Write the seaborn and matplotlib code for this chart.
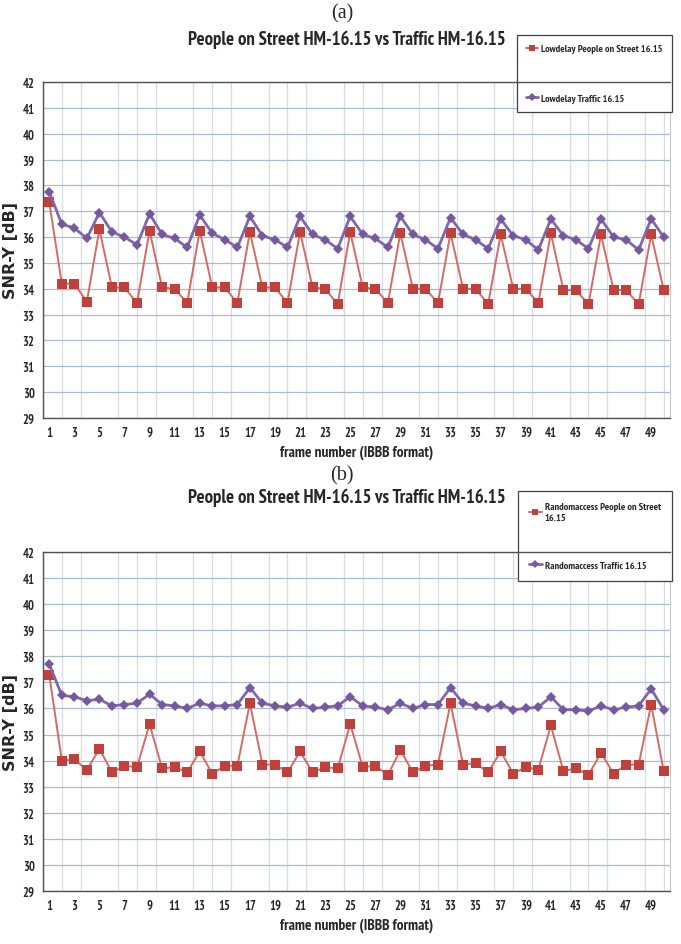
import numpy as np
import pandas as pd
import seaborn as sns
import matplotlib.pyplot as plt
from matplotlib import font_manager
from matplotlib.ticker import FixedLocator

# frame numbers 1..50
frames = list(range(1, 51))

# (a) lowdelay
lowdelay_people = [37.35, 34.2, 34.2, 33.5, 36.3, 34.05, 34.05, 33.45, 36.25, 34.05,
                   34.0, 33.45, 36.25, 34.05, 34.05, 33.45, 36.2, 34.05, 34.05, 33.45,
                   36.2, 34.05, 34.0, 33.4, 36.2, 34.05, 34.0, 33.45, 36.15, 34.0,
                   34.0, 33.45, 36.15, 34.0, 34.0, 33.4, 36.1, 34.0, 34.0, 33.45,
                   36.15, 33.95, 33.95, 33.4, 36.1, 33.95, 33.95, 33.4, 36.1, 33.95]
lowdelay_traffic = [37.75, 36.5, 36.35, 35.95, 36.95, 36.2, 36.0, 35.7, 36.9, 36.1,
                    35.95, 35.6, 36.85, 36.15, 35.9, 35.6, 36.8, 36.05, 35.9, 35.6,
                    36.8, 36.1, 35.9, 35.55, 36.8, 36.1, 35.95, 35.6, 36.8, 36.1,
                    35.9, 35.55, 36.75, 36.1, 35.9, 35.55, 36.7, 36.05, 35.9, 35.5,
                    36.7, 36.05, 35.9, 35.55, 36.7, 36.0, 35.9, 35.5, 36.7, 36.0]

# (b) randomaccess
random_people = [37.3, 34.0, 34.05, 33.65, 34.45, 33.55, 33.8, 33.75, 35.4, 33.7,
                 33.75, 33.55, 34.35, 33.5, 33.8, 33.8, 36.2, 33.85, 33.85, 33.55,
                 34.35, 33.55, 33.75, 33.7, 35.4, 33.75, 33.8, 33.45, 34.4, 33.55,
                 33.8, 33.85, 36.2, 33.85, 33.9, 33.55, 34.35, 33.5, 33.75, 33.65,
                 35.35, 33.6, 33.7, 33.45, 34.3, 33.5, 33.85, 33.85, 36.15, 33.6]
random_traffic = [37.7, 36.5, 36.45, 36.3, 36.35, 36.1, 36.15, 36.2, 36.55, 36.15,
                  36.1, 36.0, 36.2, 36.1, 36.1, 36.15, 36.8, 36.2, 36.1, 36.05,
                  36.2, 36.0, 36.05, 36.1, 36.45, 36.1, 36.05, 35.95, 36.2, 36.0,
                  36.15, 36.15, 36.8, 36.2, 36.1, 36.0, 36.15, 35.95, 36.0, 36.05,
                  36.45, 35.95, 35.95, 35.9, 36.1, 35.95, 36.05, 36.1, 36.75, 35.95]

xtick_labels = [str(f) for f in frames if f % 2 == 1]
yticks = list(range(29, 43))

title = 'People on Street HM-16.15 vs Traffic HM-16.15'
xlabel = 'frame number (IBBB format)'
ylabel = 'SNR-Y [dB]'

sns.set_style('white')


def heavy(w):
    if isinstance(w, str):
        w = font_manager.weight_dict.get(w, 400)
    return w >= 600


# look for a narrow bold face (the original uses Arial Narrow Bold)
fonts = font_manager.fontManager.ttflist
is_narrow = lambda f: 'Narrow' in f.name or 'Condensed' in f.name
narrow_bold = [f.name for f in fonts if is_narrow(f) and heavy(f.weight)]
narrow_any = [f.name for f in fonts if is_narrow(f)]
if narrow_bold:
    narrow = sorted(narrow_bold, key=lambda n: ('Narrow' not in n, n))[0]
    shrink = 1.0
elif narrow_any:
    narrow = narrow_any[0]
    shrink = 1.0
else:
    narrow = 'Liberation Sans'
    shrink = 0.8
plt.rcParams['font.family'] = [narrow, 'DejaVu Sans']

RED_LINE = '#d46a66'
RED_MARK = '#c0403c'
PUR_LINE = '#8166a8'
PUR_MARK = '#7558a0'

fig = plt.figure(figsize=(6.81, 9.45), dpi=100)
ax_a = fig.add_axes([0.0631, 0.5566, 0.9207, 0.3556])
ax_b = fig.add_axes([0.0631, 0.0561, 0.9207, 0.3587])


def draw(ax, people, traffic, lab_people, lab_traffic, leg_anchor, leg_space, leg_pad):
    df = pd.DataFrame({'frame': frames, 'people': people, 'traffic': traffic})
    sns.lineplot(data=df, x='frame', y='people', ax=ax, color=RED_LINE, linewidth=1.4,
                 marker='s', markersize=6.8, markerfacecolor=RED_MARK,
                 markeredgewidth=0, label=lab_people, zorder=3)
    sns.lineplot(data=df, x='frame', y='traffic', ax=ax, color=PUR_LINE, linewidth=2.0,
                 marker='D', markersize=4.8, markerfacecolor=PUR_MARK,
                 markeredgewidth=0, label=lab_traffic, zorder=4)
    ax.set_xlim(0.5, 50.5)
    ax.set_ylim(29, 42)
    ax.set_yticks(yticks)
    ax.set_yticklabels([str(v) for v in yticks], fontsize=9 * shrink, fontweight='bold')
    ax.set_xticks([f for f in frames if f % 2 == 1])
    ax.set_xticklabels(xtick_labels, fontsize=9 * shrink, fontweight='bold')
    ax.xaxis.set_minor_locator(FixedLocator(np.arange(0.5, 50.6, 1.5)))
    ax.tick_params(axis='x', which='major', length=0, pad=6)
    ax.tick_params(axis='x', which='minor', length=3, color='#808080', direction='out')
    ax.tick_params(axis='y', length=3, color='#606060', direction='out', pad=3)
    ax.grid(True, axis='y', color='#a9bccf', linewidth=0.9)
    ax.grid(True, axis='x', which='minor', color='#d6dde7', linewidth=0.9)
    ax.grid(False, axis='x', which='major')
    ax.set_axisbelow(True)
    for s in ['left', 'bottom', 'top']:
        ax.spines[s].set_color('#505050')
        ax.spines[s].set_linewidth(1.0)
    ax.spines['top'].set_zorder(10)
    ax.spines['right'].set_color('#c8c8c8')
    ax.set_xlabel(xlabel, fontsize=11 * shrink, fontweight='bold', labelpad=4)
    ax.set_ylabel(ylabel, fontsize=11.5, fontweight='bold', family='DejaVu Sans')
    ax.yaxis.set_label_coords(-0.040, 0.5)
    leg = ax.legend(loc='upper right', bbox_to_anchor=leg_anchor,
                    bbox_transform=fig.transFigure,
                    prop={'weight': 'bold', 'size': 7.4 * shrink},
                    frameon=True, fancybox=False, framealpha=1,
                    edgecolor='#404040', borderpad=leg_pad, labelspacing=leg_space,
                    handlelength=1.2, handletextpad=0.3, borderaxespad=0)
    leg.get_frame().set_linewidth(0.9)
    leg.set_zorder(6)
    for h in leg.legend_handles:
        h.set_markersize(4)


draw(ax_a, lowdelay_people, lowdelay_traffic,
     'Lowdelay People on Street 16.15', 'Lowdelay Traffic 16.15',
     (672 / 681, 1 - 36 / 945), 3.9, 0.9)
draw(ax_b, random_people, random_traffic,
     'Randomaccess People on Street\n16.15', 'Randomaccess Traffic 16.15',
     (672 / 681, 1 - 492 / 945), 3.8, 1.1)

for y in [1 - 40 / 945, 1 - 498 / 945]:
    fig.text(347 / 681, y, title, ha='center', va='center',
             fontsize=13.5 * shrink, fontweight='bold')

fig.text(342 / 681, 1 - 14 / 945, '(a)', ha='center', va='center',
         fontsize=14.5, family='Liberation Serif')
fig.text(342 / 681, 1 - 476 / 945, '(b)', ha='center', va='center',
         fontsize=14.5, family='Liberation Serif')

fig.savefig('out.png', dpi=100, facecolor='white')
